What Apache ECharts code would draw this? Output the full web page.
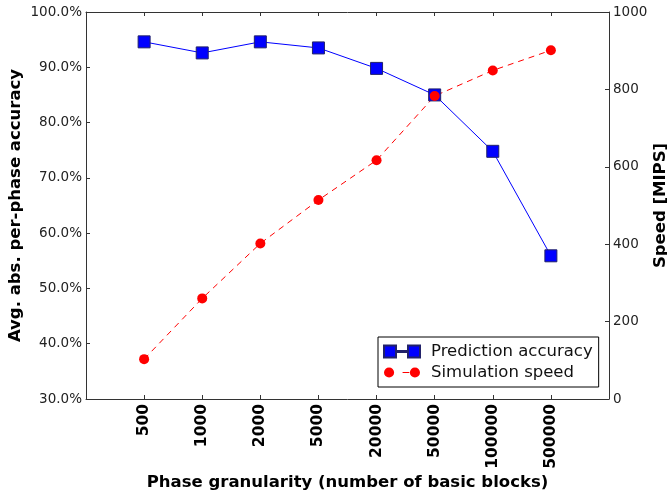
<!DOCTYPE html>
<html>
<head>
<meta charset="utf-8">
<script src="https://cdn.jsdelivr.net/npm/echarts@6/dist/echarts.min.js"></script>
<style>
html,body{margin:0;padding:0;background:#fff;}
#chart{width:667px;height:499px;}
</style>
</head>
<body>
<div id="chart"></div>
<script>
const categories = ['500','1000','2000','5000','20000','50000','100000','500000'];
const accuracy = [94.6, 92.6, 94.6, 93.5, 89.8, 85.0, 74.8, 55.9];
const speed = [103, 260, 402, 514, 617, 783, 849, 901];
const accTicks = [30, 40, 50, 60, 70, 80, 90, 100];
const speedTicks = [0, 200, 400, 600, 800, 1000];

const font = 'DejaVu Sans';
const axisColor = '#333';
const chart = echarts.init(document.getElementById('chart'));

const xBase = {
  type: 'value', min: 0, max: categories.length + 1, interval: 1,
  splitLine: {show: false},
  axisLine: {show: true, onZero: false, lineStyle: {color: axisColor, width: 1}},
  axisTick: {show: true, inside: true, length: 4, lineStyle: {color: axisColor}}
};

chart.setOption({
  animation: false,
  backgroundColor: '#fff',
  grid: {left: 86, top: 12, right: 58, bottom: 100, containLabel: false, outerBoundsMode: 'none'},
  xAxis: [
    Object.assign({}, xBase, {
      position: 'bottom',
      name: 'Phase granularity (number of basic blocks)',
      nameLocation: 'middle', nameGap: 75, nameMoveOverlap: false,
      nameTextStyle: {fontFamily: font, fontWeight: 'bold', fontSize: 16.5, color: '#000'},
      axisLabel: {
        rotate: 90, margin: 5, fontFamily: font, fontWeight: 'bold', fontSize: 15.5, color: '#000',
        formatter: function (v) { return (v >= 1 && v <= categories.length) ? categories[v - 1] : ''; }
      }
    }),
    Object.assign({}, xBase, {position: 'top', axisLabel: {show: false}})
  ],
  yAxis: [
    {
      type: 'value', min: accTicks[0], max: accTicks[accTicks.length - 1], interval: 10,
      position: 'left',
      name: 'Avg. abs. per-phase accuracy', nameLocation: 'middle', nameGap: 62, nameMoveOverlap: false,
      nameTextStyle: {fontFamily: font, fontWeight: 'bold', fontSize: 16.5, color: '#000'},
      splitLine: {show: false},
      axisLine: {show: true, onZero: false, lineStyle: {color: axisColor}},
      axisTick: {show: true, inside: true, length: 4, lineStyle: {color: axisColor}},
      axisLabel: {margin: 4, fontFamily: font, fontSize: 13.5, color: '#222',
        formatter: function (v) { return v.toFixed(1) + '%'; }}
    },
    {
      type: 'value', min: speedTicks[0], max: speedTicks[speedTicks.length - 1], interval: 200,
      position: 'right',
      name: 'Speed [MIPS]', nameLocation: 'middle', nameGap: 43, nameMoveOverlap: false,
      nameTextStyle: {fontFamily: font, fontWeight: 'bold', fontSize: 16.5, color: '#000'},
      splitLine: {show: false},
      axisLine: {show: true, onZero: false, lineStyle: {color: axisColor}},
      axisTick: {show: true, inside: true, length: 4, lineStyle: {color: axisColor}},
      axisLabel: {margin: 4, fontFamily: font, fontSize: 13.5, color: '#222',
        formatter: function (v) { return String(v); }}
    }
  ],
  legend: {
    orient: 'vertical', left: 378, top: 337,
    padding: [6, 6, 6, 5], itemGap: 4,
    itemWidth: 36, itemHeight: 12,
    backgroundColor: '#fff', borderColor: '#000', borderWidth: 1, borderRadius: 0,
    textStyle: {fontFamily: font, fontSize: 16.5, color: '#111', lineHeight: 17, padding: [0, 0, 0, 6]},
    data: [
      {name: 'Prediction accuracy', icon: 'path://M0,0h12v12h-12zM12,5.5h12v1h-12zM24,0h12v12h-12z'},
      {name: 'Simulation speed', icon: 'path://M7,1.5A4.5,4.5,0,1,1,6.99,1.5zM19,5.5h6v1h-6zM30,1.5A4.5,4.5,0,1,1,29.99,1.5z'}
    ]
  },
  series: [
    {
      name: 'Prediction accuracy', type: 'line', xAxisIndex: 0, yAxisIndex: 0,
      data: accuracy.map(function (v, i) { return [i + 1, v]; }),
      symbol: 'rect', symbolSize: 12,
      lineStyle: {color: '#0000ff', width: 1},
      itemStyle: {color: '#0000ff', borderColor: '#22226a', borderWidth: 1}
    },
    {
      name: 'Simulation speed', type: 'line', xAxisIndex: 0, yAxisIndex: 1,
      data: speed.map(function (v, i) { return [i + 1, v]; }),
      symbol: 'circle', symbolSize: 10,
      lineStyle: {color: '#ff0000', width: 1, type: [6, 5]},
      itemStyle: {color: '#ff0000', borderWidth: 0}
    }
  ]
});
</script>
</body>
</html>
